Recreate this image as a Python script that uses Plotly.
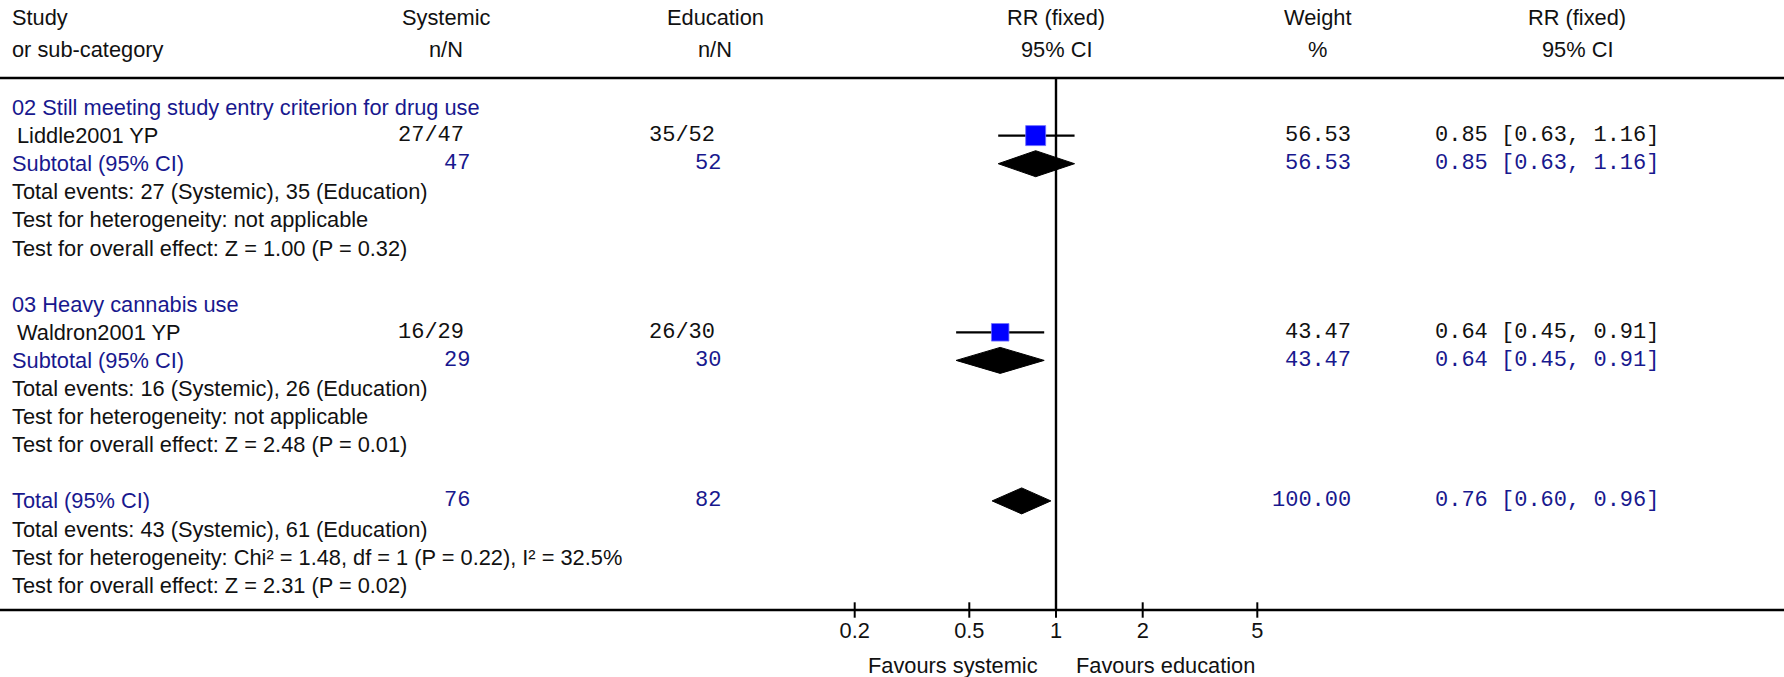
import plotly.graph_objects as go
import math

# ---------------- data ----------------
headers_top = ["Study", "Systemic", "Education", "RR (fixed)", "Weight", "RR (fixed)"]
headers_bot = ["or sub-category", "n/N", "n/N", "95% CI", "%", "95% CI"]

group_titles = ["02 Still meeting study entry criterion for drug use", "03 Heavy cannabis use"]
studies = ["Liddle2001 YP", "Waldron2001 YP"]
sys_events = [27, 16]
sys_totals = [47, 29]
edu_events = [35, 26]
edu_totals = [52, 30]
study_rr = [0.85, 0.64]
study_lo = [0.63, 0.45]
study_hi = [1.16, 0.91]
study_weight = [56.53, 43.47]

sub_rr = [0.85, 0.64]
sub_lo = [0.63, 0.45]
sub_hi = [1.16, 0.91]
sub_weight = [56.53, 43.47]
sub_events_text = ["Total events: 27 (Systemic), 35 (Education)",
                   "Total events: 16 (Systemic), 26 (Education)"]
sub_het_text = ["Test for heterogeneity: not applicable",
                "Test for heterogeneity: not applicable"]
sub_effect_text = ["Test for overall effect: Z = 1.00 (P = 0.32)",
                   "Test for overall effect: Z = 2.48 (P = 0.01)"]

total_sys_N = 76
total_edu_N = 82
total_rr = 0.76
total_lo = 0.60
total_hi = 0.96
total_weight = 100.00
total_texts = ["Total events: 43 (Systemic), 61 (Education)",
               "Test for heterogeneity: Chi² = 1.48, df = 1 (P = 0.22), I² = 32.5%",
               "Test for overall effect: Z = 2.31 (P = 0.02)"]

tick_vals = [0.2, 0.5, 1, 2, 5]
tick_text = ["0.2", "0.5", "1", "2", "5"]
favours_left = "Favours systemic"
favours_right = "Favours education"

# ---------------- layout constants ----------------
W, H = 1784, 677
ROW0, ROWH = 107.5, 28.1
HEAD1, HEAD2 = 17.5, 49.5
TOPLINE_Y = 78
AXIS_Y = 610
PX1 = 1056          # pixel position of RR = 1
PX_DEC = 288        # pixels per decade
SANS = "Liberation Sans, Arial, sans-serif"
MONO = "Liberation Mono, Courier New, monospace"
SANS_SIZE = 21.8
MONO_SIZE = 22
BLACK = "#111111"
BLUE = "#18188e"
LEFT = 9.5

def row_y(i):
    return ROW0 + ROWH * i

fig = go.Figure()
ann = []

def txt(s, xpx, y, anchor="left", color=BLACK, font=SANS, size=None):
    ann.append(dict(text=s, x=xpx / W, xref="paper", y=y, yref="y",
                    xanchor=anchor, yanchor="middle", showarrow=False,
                    font=dict(family=font, size=size or (SANS_SIZE if font == SANS else MONO_SIZE), color=color)))

# headers
col_centers = [None, 446, 715, 1056, 1317, 1577]
txt(headers_top[0], LEFT, HEAD1)
txt(headers_bot[0], LEFT, HEAD2)
for k in range(1, 6):
    txt(headers_top[k], col_centers[k], HEAD1, anchor="center")
    txt(headers_bot[k], col_centers[k], HEAD2, anchor="center")

SYS_R, SYS_R2 = 466, 472
EDU_R, EDU_R2 = 716.5, 723
WT_R = 1353
CI_L = 1433

sq_x, sq_y, sq_size = [], [], []
ci_x, ci_y = [], []
diamonds = []

for g in range(2):
    base = g * 7
    txt(group_titles[g], LEFT, row_y(base), color=BLUE)
    # study row
    ys = row_y(base + 1)
    txt(studies[g], LEFT + 5.5, ys)
    txt(f"{sys_events[g]}/{sys_totals[g]}", SYS_R, ys, anchor="right", font=MONO)
    txt(f"{edu_events[g]}/{edu_totals[g]}", EDU_R, ys, anchor="right", font=MONO)
    txt(f"{study_weight[g]:.2f}", WT_R, ys, anchor="right", font=MONO)
    txt(f"{study_rr[g]:.2f} [{study_lo[g]:.2f}, {study_hi[g]:.2f}]", CI_L, ys, font=MONO)
    sq_x.append(study_rr[g]); sq_y.append(ys)
    sq_size.append(20 * math.sqrt(study_weight[g] / max(study_weight)))
    ci_x += [study_lo[g], study_hi[g], None]
    ci_y += [ys, ys, None]
    # subtotal row
    ysub = row_y(base + 2)
    txt("Subtotal (95% CI)", LEFT, ysub, color=BLUE)
    txt(f"{sys_totals[g]}", SYS_R2, ysub, anchor="right", font=MONO, color=BLUE)
    txt(f"{edu_totals[g]}", EDU_R2, ysub, anchor="right", font=MONO, color=BLUE)
    txt(f"{sub_weight[g]:.2f}", WT_R, ysub, anchor="right", font=MONO, color=BLUE)
    txt(f"{sub_rr[g]:.2f} [{sub_lo[g]:.2f}, {sub_hi[g]:.2f}]", CI_L, ysub, font=MONO, color=BLUE)
    diamonds.append((sub_lo[g], sub_rr[g], sub_hi[g], ysub))
    txt(sub_events_text[g], LEFT, row_y(base + 3))
    txt(sub_het_text[g], LEFT, row_y(base + 4))
    txt(sub_effect_text[g], LEFT, row_y(base + 5))

# overall total
yt = row_y(14)
txt("Total (95% CI)", LEFT, yt, color=BLUE)
txt(f"{total_sys_N}", SYS_R2, yt, anchor="right", font=MONO, color=BLUE)
txt(f"{total_edu_N}", EDU_R2, yt, anchor="right", font=MONO, color=BLUE)
txt(f"{total_weight:.2f}", WT_R, yt, anchor="right", font=MONO, color=BLUE)
txt(f"{total_rr:.2f} [{total_lo:.2f}, {total_hi:.2f}]", CI_L, yt, font=MONO, color=BLUE)
diamonds.append((total_lo, total_rr, total_hi, yt))
for k, s in enumerate(total_texts):
    txt(s, LEFT, row_y(15 + k))

# favours labels
txt(favours_left, 1040, 665.5, anchor="right")
txt(favours_right, 1074, 665.5, anchor="left")

# CI lines
fig.add_trace(go.Scatter(x=ci_x, y=ci_y, mode="lines",
                         line=dict(color="black", width=2.2), hoverinfo="skip"))
# squares
fig.add_trace(go.Scatter(x=sq_x, y=sq_y, mode="markers",
                         marker=dict(symbol="square", size=sq_size, color="#0000ff", opacity=1,
                                     line=dict(color="#7070ff", width=0.8)),
                         hoverinfo="skip"))
# diamonds
DH = 13
for lo, est, hi, yy in diamonds:
    fig.add_trace(go.Scatter(x=[lo, est, hi, est, lo], y=[yy, yy - DH, yy, yy + DH, yy],
                             mode="lines", fill="toself", fillcolor="black",
                             line=dict(color="black", width=1), hoverinfo="skip"))
# crossing tick marks
fig.add_trace(go.Scatter(x=tick_vals, y=[AXIS_Y] * len(tick_vals), mode="markers",
                         marker=dict(symbol="line-ns", size=11,
                                     line=dict(color="black", width=2)),
                         hoverinfo="skip"))

shapes = [
    dict(type="line", xref="paper", yref="y", x0=0, x1=1, y0=TOPLINE_Y, y1=TOPLINE_Y,
         line=dict(color="black", width=2.6)),
    dict(type="line", xref="x", yref="y", x0=1, x1=1, y0=TOPLINE_Y, y1=AXIS_Y,
         line=dict(color="black", width=2.4)),
    dict(type="line", xref="paper", yref="y", x0=0, x1=1, y0=AXIS_Y, y1=AXIS_Y,
         line=dict(color="black", width=2.6)),
]

lo_log = -PX1 / PX_DEC
hi_log = (W - PX1) / PX_DEC

fig.update_layout(
    width=W, height=H,
    margin=dict(l=0, r=0, t=0, b=0),
    paper_bgcolor="white", plot_bgcolor="white",
    showlegend=False,
    annotations=ann, shapes=shapes,
    xaxis=dict(type="log", range=[lo_log, hi_log], domain=[0, 1],
               anchor="free", position=(H - AXIS_Y) / H,
               showline=False, showgrid=False, zeroline=False,
               tickvals=tick_vals, ticktext=tick_text,
               ticks="outside", ticklen=1, tickcolor="rgba(0,0,0,0)",
               tickfont=dict(family=SANS, size=SANS_SIZE, color=BLACK)),
    yaxis=dict(range=[H, 0], domain=[0, 1], visible=False, showgrid=False, zeroline=False),
)

fig.write_html("out.html", config={"displayModeBar": False},
               post_script="document.body.style.margin='0';document.body.style.overflow='hidden';")
